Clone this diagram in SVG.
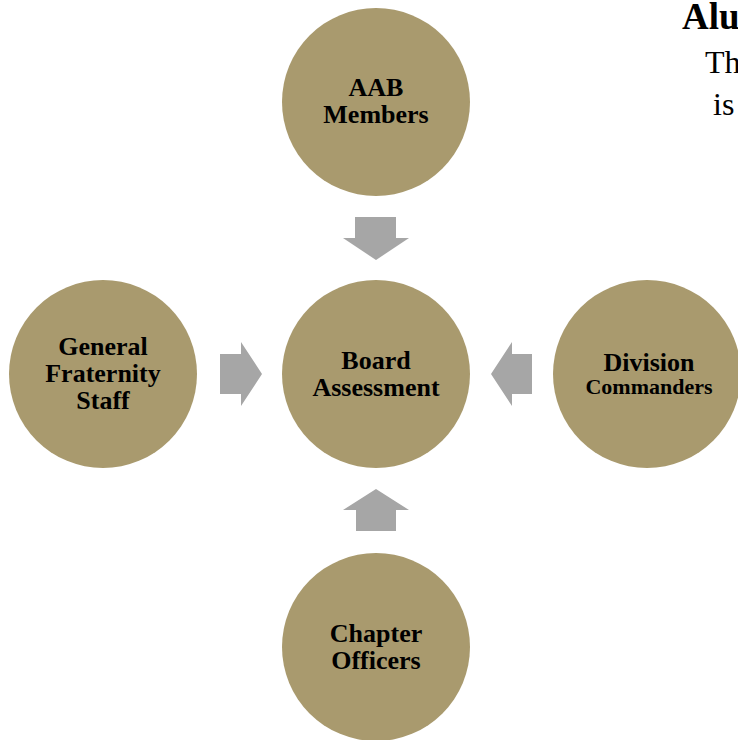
<svg xmlns="http://www.w3.org/2000/svg" width="738" height="740" viewBox="0 0 738 740">
  <style>
    .node { fill: #A99A6E; }
    .arrow { fill: #A6A6A6; }
    .lbl { font-family: "Liberation Serif", "Times New Roman", serif; font-weight: bold; font-size: 26px; fill: #000; text-anchor: middle; }
    .sm { font-size: 22px; }
    .head { font-family: "Liberation Serif", "Times New Roman", serif; font-weight: bold; font-size: 37px; fill: #000; }
    .body { font-family: "Liberation Serif", "Times New Roman", serif; font-size: 32px; fill: #000; }
  </style>
  <rect width="738" height="740" fill="#FFFFFF"/>

  <!-- heading and paragraph, clipped by the right edge -->
  <text class="head" x="682" y="29">Alu</text>
  <text class="body" x="705" y="73">Th</text>
  <text class="body" x="713" y="115">is</text>

  <g id="connectors">
    <!-- top: pointing down -->
    <polygon class="arrow" points="355,217 396,217 396,238 409,238 376,260 343,238 355,238"/>
    <!-- left: pointing right -->
    <polygon class="arrow" points="220,354 241,354 241,342 262,374 241,406 241,394 220,394"/>
    <!-- right: pointing left -->
    <polygon class="arrow" points="532,354 512,354 512,342 491,374 512,406 512,394 532,394"/>
    <!-- bottom: pointing up -->
    <polygon class="arrow" points="356,531 396,531 396,510 409,510 376,489 343,510 356,510"/>
  </g>

  <g id="aab-members">
    <circle class="node" cx="376" cy="102" r="94"/>
    <text class="lbl" x="376" y="96">AAB</text>
    <text class="lbl" x="376" y="123">Members</text>
  </g>

  <g id="board-assessment">
    <circle class="node" cx="376" cy="374" r="94"/>
    <text class="lbl" x="376" y="369">Board</text>
    <text class="lbl" x="376" y="396">Assessment</text>
  </g>

  <g id="general-fraternity-staff">
    <circle class="node" cx="103" cy="374" r="94"/>
    <text class="lbl" x="103" y="355">General</text>
    <text class="lbl" x="103" y="382">Fraternity</text>
    <text class="lbl" x="103" y="409">Staff</text>
  </g>

  <g id="division-commanders">
    <circle class="node" cx="647" cy="374" r="94"/>
    <text class="lbl" x="649" y="371">Division</text>
    <text class="lbl sm" x="649" y="394">Commanders</text>
  </g>

  <g id="chapter-officers">
    <circle class="node" cx="376" cy="647" r="94"/>
    <text class="lbl" x="376" y="642">Chapter</text>
    <text class="lbl" x="376" y="669">Officers</text>
  </g>
</svg>
